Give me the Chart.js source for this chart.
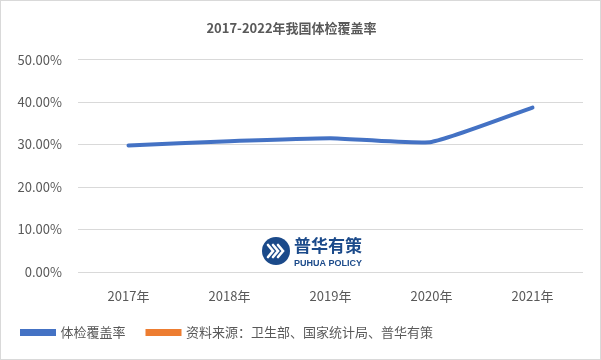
<!DOCTYPE html>
<html><head><meta charset="utf-8">
<script src="https://cdn.jsdelivr.net/npm/chart.js@4/dist/chart.umd.min.js"></script>
<style>
html,body{margin:0;padding:0;background:#fff;}
#wrap{position:absolute;left:0;top:0;width:601px;height:360px;box-sizing:border-box;border:1px solid #d9d9d9;}
canvas{position:absolute;left:0;top:0;}
</style></head>
<body><div id="wrap"></div><canvas id="c" width="601" height="360"></canvas>
<script>
const categories = ['2017年','2018年','2019年','2020年','2021年'];
const coverage = [29.8, 30.8, 31.5, 30.6, 38.7];
const seriesNames = ['体检覆盖率','资料来源：卫生部、国家统计局、普华有策'];
const chartTitle = '2017-2022年我国体检覆盖率';

const FONT = '"Noto Sans CJK SC","Microsoft YaHei",sans-serif';

const logoPlugin = {
  id:'logo',
  afterDatasetsDraw(chart){
    const ctx = chart.ctx;
    ctx.save();
    const cx = 276, cy = 251, r = 14;
    ctx.fillStyle = '#1b4a8a';
    ctx.beginPath(); ctx.arc(cx,cy,r,0,Math.PI*2); ctx.fill();
    ctx.strokeStyle = '#ffffff'; ctx.lineWidth = 2.6; ctx.lineCap='round';
    for (let i=0;i<3;i++){
      const ox = cx-8+i*5;
      ctx.beginPath(); ctx.moveTo(ox,cy-6); ctx.lineTo(ox+5,cy); ctx.lineTo(ox,cy+6); ctx.stroke();
    }
    ctx.fillStyle = '#1b4a8a';
    ctx.textBaseline = 'alphabetic';
    ctx.font = 'bold 17px ' + FONT;
    ctx.fillText('普华有策', 294, 252);
    ctx.font = 'bold 9px "Liberation Sans",Arial,sans-serif';
    ctx.fillText('PUHUA POLICY', 294, 266);
    ctx.restore();
  }
};

new Chart(document.getElementById('c'), {
  type:'line',
  data:{
    labels: categories,
    datasets:[
      {label: seriesNames[0], data: coverage, borderColor:'#4472C4', backgroundColor:'#4472C4', borderWidth:4, pointRadius:0, tension:0.15, borderCapStyle:'round'},
      {label: seriesNames[1], data: [], borderColor:'#ED7D31', backgroundColor:'#ED7D31', borderWidth:4, pointRadius:0}
    ]
  },
  options:{
    responsive:false, animation:false,
    layout:{padding:{left:0,right:18,top:0,bottom:11}},
    plugins:{
      title:{display:true, text:chartTitle, color:'#595959', font:{family:FONT,size:13,weight:'bold'}, padding:{top:20,bottom:24}},
      legend:{position:'bottom', align:'start',
        labels:{color:'#595959', font:{family:FONT,size:13}, boxWidth:32, boxHeight:3, padding:22, usePointStyle:false}},
      tooltip:{enabled:false}
    },
    scales:{
      x:{offset:true, grid:{display:false, drawTicks:false}, border:{display:false},
         ticks:{color:'#595959', font:{family:FONT,size:13}, padding:16},
         afterFit(s){ s.height = 32; }},
      y:{min:0,max:50, grid:{color:'#d9d9d9', drawTicks:false}, border:{display:false},
         ticks:{stepSize:10, color:'#595959', font:{family:FONT,size:13}, padding:16, callback:v=>v.toFixed(2)+'%'},
         afterFit(s){ s.width = 78; }}
    }
  },
  plugins:[logoPlugin]
});
</script></body></html>
